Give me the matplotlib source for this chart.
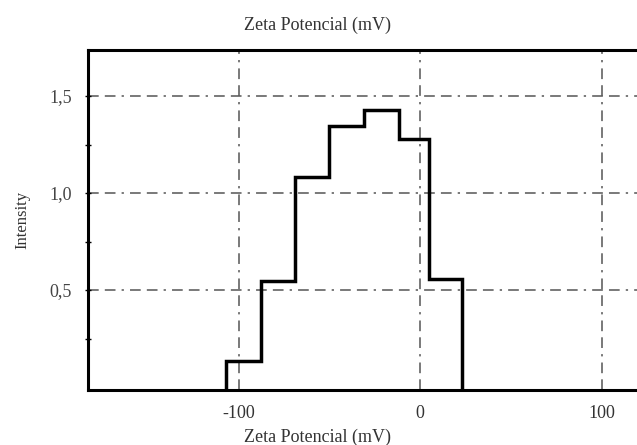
import matplotlib
matplotlib.use("Agg")
import matplotlib.pyplot as plt
from matplotlib.ticker import FixedLocator

# histogram of zeta potential (bin edges in mV, intensity per bin)
edges = [-107, -88, -69, -50.5, -31, -12, 5, 23]
intensity = [0.134, 0.546, 1.084, 1.347, 1.428, 1.277, 0.557]

xticks = [-100, 0, 100]
xtick_labels = ["-100", "0", "100"]
yticks = [0.5, 1.0, 1.5]
ytick_labels = ["0,5", "1,0", "1,5"]

plt.rcParams["font.family"] = ["Liberation Serif", "DejaVu Serif"]

W, H = 637, 445
fig = plt.figure(figsize=(W / 100, H / 100), dpi=100)
fig.patch.set_facecolor("white")

# axes box runs off the right side of the picture
left, right, top, bottom = 88, 660, 50, 390
ax = fig.add_axes([left / W, 1 - bottom / H, (right - left) / W, (bottom - top) / H])
ymin = -0.015
ax.set_xlim(-183, 132)
ax.set_ylim(ymin, 1.737)

ax.stairs(intensity, edges, baseline=ymin, color="black", lw=2.5, zorder=3)

ax.set_xticks(xticks)
ax.set_xticklabels(xtick_labels)
ax.set_yticks(yticks)
ax.set_yticklabels(ytick_labels)
ax.yaxis.set_minor_locator(FixedLocator([0.25, 0.75, 1.25]))

ax.tick_params(axis="x", length=0, pad=11, labelsize=13, labelcolor="#333333")
ax.tick_params(axis="y", which="major", direction="inout", length=5, width=1,
               pad=9, labelsize=13, labelcolor="#444444")
ax.tick_params(axis="y", which="minor", direction="inout", length=4, width=1)

grid_style = (0, (7, 4, 7, 4, 1.5, 4))
ax.grid(True, which="major", color="#555555", lw=1.1, linestyle=grid_style)

for side in ["left", "top", "bottom", "right"]:
    ax.spines[side].set_linewidth(2.2)
    ax.spines[side].set_color("black")

fig.text(317 / W, 1 - 25 / H, "Zeta Potencial (mV)", ha="center", va="center",
         fontsize=13, color="#333333")
fig.text(317 / W, 1 - 437 / H, "Zeta Potencial (mV)", ha="center", va="center",
         fontsize=13, color="#333333")
fig.text(22 / W, 1 - 220 / H, "Intensity", ha="center", va="center",
         rotation=90, fontsize=12, color="#333333")

fig.savefig("out.png", dpi=100)
